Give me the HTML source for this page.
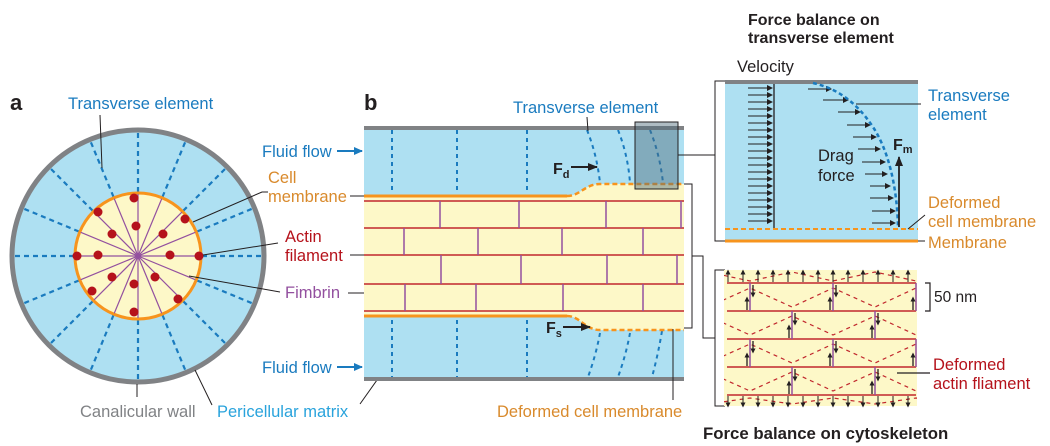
<!DOCTYPE html>
<html><head><meta charset="utf-8"><style>
body{margin:0;background:#fff}
svg{display:block;font-family:"Liberation Sans",Arial,sans-serif}
</style></head><body>
<svg width="1050" height="446" viewBox="0 0 1050 446" xmlns="http://www.w3.org/2000/svg">
<defs>
<marker id="ah" markerWidth="6" markerHeight="6" refX="5" refY="3" orient="auto" markerUnits="userSpaceOnUse"><path d="M0,0 L6,3 L0,6 Z" fill="#231f20"/></marker>
<marker id="ahb" markerWidth="10" markerHeight="8" refX="9" refY="4" orient="auto" markerUnits="userSpaceOnUse"><path d="M0,0 L10,4 L0,8 Z" fill="#231f20"/></marker>
<marker id="ahblue" markerWidth="9" markerHeight="8" refX="8" refY="4" orient="auto" markerUnits="userSpaceOnUse"><path d="M0,0 L9,4 L0,8 Z" fill="#1a7bbf"/></marker>
<marker id="as" markerWidth="5" markerHeight="5" refX="2.5" refY="2.5" orient="auto" markerUnits="userSpaceOnUse"><path d="M0,0 L5,2.5 L0,5 Z" fill="#231f20"/></marker>
<clipPath id="cl"><rect x="724" y="270" width="193" height="136"/></clipPath>
</defs>

<!-- Panel a -->
<text x="10" y="110" font-size="22" font-weight="bold" fill="#231f20">a</text>
<circle cx="138" cy="256" r="126" fill="#aee0f2" stroke="#808285" stroke-width="5"/>
<g stroke="#1a7bbf" stroke-width="2.2" stroke-dasharray="5,4">
<g id="rad"><line x1="138" y1="192" x2="138" y2="131"/></g>
<use href="#rad" transform="rotate(22.5 138 256)"/><use href="#rad" transform="rotate(45 138 256)"/><use href="#rad" transform="rotate(67.5 138 256)"/><use href="#rad" transform="rotate(90 138 256)"/><use href="#rad" transform="rotate(112.5 138 256)"/><use href="#rad" transform="rotate(135 138 256)"/><use href="#rad" transform="rotate(157.5 138 256)"/><use href="#rad" transform="rotate(180 138 256)"/><use href="#rad" transform="rotate(202.5 138 256)"/><use href="#rad" transform="rotate(225 138 256)"/><use href="#rad" transform="rotate(247.5 138 256)"/><use href="#rad" transform="rotate(270 138 256)"/><use href="#rad" transform="rotate(292.5 138 256)"/><use href="#rad" transform="rotate(315 138 256)"/><use href="#rad" transform="rotate(337.5 138 256)"/>
</g>
<circle cx="138" cy="256" r="63" fill="#fdf8c8" stroke="#f7941d" stroke-width="3"/>
<g stroke="#93509f" stroke-width="1.2">
<g id="prad"><line x1="138" y1="256" x2="138" y2="194"/></g>
<use href="#prad" transform="rotate(22.5 138 256)"/><use href="#prad" transform="rotate(45 138 256)"/><use href="#prad" transform="rotate(67.5 138 256)"/><use href="#prad" transform="rotate(90 138 256)"/><use href="#prad" transform="rotate(112.5 138 256)"/><use href="#prad" transform="rotate(135 138 256)"/><use href="#prad" transform="rotate(157.5 138 256)"/><use href="#prad" transform="rotate(180 138 256)"/><use href="#prad" transform="rotate(202.5 138 256)"/><use href="#prad" transform="rotate(225 138 256)"/><use href="#prad" transform="rotate(247.5 138 256)"/><use href="#prad" transform="rotate(270 138 256)"/><use href="#prad" transform="rotate(292.5 138 256)"/><use href="#prad" transform="rotate(315 138 256)"/><use href="#prad" transform="rotate(337.5 138 256)"/>
</g>
<circle cx="138" cy="256" r="3" fill="#93509f"/>
<g fill="#b5121b">
<circle cx="134" cy="198" r="4.5"/><circle cx="98" cy="212" r="4.5"/><circle cx="185" cy="219" r="4.5"/><circle cx="136" cy="226" r="4.5"/><circle cx="112" cy="234" r="4.5"/><circle cx="163" cy="234" r="4.5"/><circle cx="77" cy="256" r="4.5"/><circle cx="98" cy="255" r="4.5"/><circle cx="170" cy="255" r="4.5"/><circle cx="199" cy="256" r="4.5"/><circle cx="112" cy="277" r="4.5"/><circle cx="155" cy="277" r="4.5"/><circle cx="134" cy="284" r="4.5"/><circle cx="92" cy="291" r="4.5"/><circle cx="178" cy="299" r="4.5"/><circle cx="134" cy="312" r="4.5"/>
</g>
<g stroke="#231f20" stroke-width="1" fill="none">
<line x1="100" y1="115" x2="102" y2="168"/>
<polyline points="193,222 262,192 268,192"/>
<line x1="203" y1="255" x2="278" y2="243"/>
<line x1="189" y1="276" x2="280" y2="292"/>
<line x1="137" y1="384" x2="137" y2="397"/>
<line x1="195" y1="370" x2="212" y2="405"/>
</g>
<g font-size="16.5">
<text x="68" y="109" fill="#1a7bbf">Transverse element</text>
<text x="268" y="183" fill="#d98a2c">Cell</text>
<text x="268" y="202" fill="#d98a2c">membrane</text>
<text x="285" y="242" fill="#b5121b">Actin</text>
<text x="285" y="261" fill="#b5121b">filament</text>
<text x="285" y="298" fill="#93509f">Fimbrin</text>
<text x="80" y="417" fill="#808285">Canalicular wall</text>
<text x="217" y="417" fill="#29a3dc">Pericellular matrix</text>
<text x="262" y="157" fill="#1a7bbf">Fluid flow</text>
<text x="262" y="373" fill="#1a7bbf">Fluid flow</text>
</g>
<line x1="337" y1="151" x2="362" y2="151" stroke="#1a7bbf" stroke-width="2" marker-end="url(#ahblue)"/>
<line x1="337" y1="367" x2="362" y2="367" stroke="#1a7bbf" stroke-width="2" marker-end="url(#ahblue)"/>
<g stroke="#231f20" stroke-width="1" fill="none">
<line x1="350" y1="196" x2="364" y2="196"/>
<line x1="350" y1="255" x2="364" y2="255"/>
<polyline points="348,293 405,293 405,286"/>
<line x1="360" y1="404" x2="382" y2="373"/>
</g>

<!-- Panel b -->
<text x="364" y="110" font-size="22" font-weight="bold" fill="#231f20">b</text>
<rect x="364" y="127" width="320" height="253" fill="#aee0f2"/>
<path d="M364,196 L567,196 C580,196 585,184 600,184 L684,184 L684,330 L600,330 C585,330 580,316 567,316 L364,316 Z" fill="#fdf8c8"/>
<g stroke="#1a7bbf" stroke-width="2" stroke-dasharray="4,4" fill="none">
<line x1="392" y1="130" x2="392" y2="193"/><line x1="457" y1="130" x2="457" y2="193"/><line x1="527" y1="130" x2="527" y2="193"/>
<line x1="392" y1="320" x2="392" y2="378"/><line x1="457" y1="320" x2="457" y2="378"/><line x1="527" y1="320" x2="527" y2="378"/>
<path d="M587,130 Q597,155 600,183"/><path d="M618,130 Q628,155 630,183"/><path d="M650,130 Q660,155 663,183"/>
<path d="M600,333 Q596,355 588,377"/><path d="M630,333 Q626,355 618,377"/><path d="M662,331 Q658,355 652,377"/>
</g>
<line x1="364" y1="128" x2="684" y2="128" stroke="#808285" stroke-width="4"/>
<line x1="364" y1="379" x2="684" y2="379" stroke="#808285" stroke-width="4"/>
<g stroke="#c1272d" stroke-width="1.5">
<line x1="364" y1="201" x2="684" y2="201"/><line x1="364" y1="228" x2="684" y2="228"/><line x1="364" y1="255" x2="684" y2="255"/><line x1="364" y1="284" x2="684" y2="284"/><line x1="364" y1="311" x2="684" y2="311"/>
</g>
<g stroke="#93509f" stroke-width="1.5">
<line x1="440" y1="201" x2="440" y2="228"/><line x1="519" y1="201" x2="519" y2="228"/><line x1="606" y1="201" x2="606" y2="228"/><line x1="681" y1="201" x2="681" y2="228"/>
<line x1="404" y1="228" x2="404" y2="255"/><line x1="478" y1="228" x2="478" y2="255"/><line x1="562" y1="228" x2="562" y2="255"/><line x1="643" y1="228" x2="643" y2="255"/>
<line x1="441" y1="255" x2="441" y2="284"/><line x1="521" y1="255" x2="521" y2="284"/><line x1="607" y1="255" x2="607" y2="284"/><line x1="677" y1="255" x2="677" y2="284"/>
<line x1="405" y1="284" x2="405" y2="311"/><line x1="476" y1="284" x2="476" y2="311"/><line x1="563" y1="284" x2="563" y2="311"/><line x1="643" y1="284" x2="643" y2="311"/>
</g>
<path d="M364,196 L567,196" stroke="#f7941d" stroke-width="3"/>
<path d="M364,316 L567,316" stroke="#f7941d" stroke-width="3"/>
<path d="M567,196 C580,196 585,184 600,184 L684,184" stroke="#f7941d" stroke-width="2.5" stroke-dasharray="5,3" fill="none"/>
<path d="M567,316 C580,316 585,330 600,330 L684,330" stroke="#f7941d" stroke-width="2.5" stroke-dasharray="5,3" fill="none"/>
<rect x="635" y="122" width="43" height="67" fill="#4d6a7a" fill-opacity="0.45" stroke="#231f20" stroke-width="1"/>
<text x="553" y="174" font-size="16" font-weight="bold" fill="#231f20">F<tspan font-size="11" dy="4">d</tspan></text>
<line x1="571" y1="167" x2="597" y2="167" stroke="#231f20" stroke-width="2" marker-end="url(#ahb)"/>
<text x="546" y="333" font-size="16" font-weight="bold" fill="#231f20">F<tspan font-size="11" dy="4">s</tspan></text>
<line x1="563" y1="327" x2="590" y2="327" stroke="#231f20" stroke-width="2" marker-end="url(#ahb)"/>
<text x="513" y="113" font-size="16.5" fill="#1a7bbf">Transverse element</text>
<text x="497" y="417" font-size="16.5" fill="#d98a2c">Deformed cell membrane</text>
<g stroke="#231f20" stroke-width="1" fill="none">
<line x1="587" y1="117" x2="588" y2="131"/>
<line x1="673" y1="329" x2="673" y2="400"/>
<polyline points="684,184 692,184 692,328 684,328"/>
<polyline points="692,256 703,256 703,338 715,338"/>
<line x1="678" y1="155" x2="715" y2="155"/>
<polyline points="725,81 715,81 715,241 725,241"/>
<polyline points="725,270 715,270 715,406 725,406"/>
</g>

<!-- Right top -->
<text x="748" y="25" font-size="16" font-weight="bold" fill="#231f20">Force balance on</text>
<text x="748" y="43" font-size="16" font-weight="bold" fill="#231f20">transverse element</text>
<text x="737" y="72" font-size="16.5" fill="#231f20">Velocity</text>
<rect x="725" y="82" width="193" height="158" fill="#aee0f2"/>
<line x1="725" y1="82" x2="918" y2="82" stroke="#808285" stroke-width="4"/>
<line x1="725" y1="241" x2="918" y2="241" stroke="#f7941d" stroke-width="3"/>
<line x1="725" y1="229" x2="918" y2="229" stroke="#f7941d" stroke-width="2" stroke-dasharray="5,3"/>
<line x1="774" y1="84" x2="774" y2="228" stroke="#231f20" stroke-width="1.3"/>
<g stroke="#231f20" stroke-width="1" marker-end="url(#ah)">
<line x1="748" y1="88" x2="772" y2="88"/><line x1="748" y1="95" x2="772" y2="95"/><line x1="748" y1="102" x2="772" y2="102"/><line x1="748" y1="109" x2="772" y2="109"/><line x1="748" y1="116" x2="772" y2="116"/><line x1="748" y1="123" x2="772" y2="123"/><line x1="748" y1="130" x2="772" y2="130"/><line x1="748" y1="137" x2="772" y2="137"/><line x1="748" y1="144" x2="772" y2="144"/><line x1="748" y1="151" x2="772" y2="151"/><line x1="748" y1="158" x2="772" y2="158"/><line x1="748" y1="165" x2="772" y2="165"/><line x1="748" y1="172" x2="772" y2="172"/><line x1="748" y1="179" x2="772" y2="179"/><line x1="748" y1="186" x2="772" y2="186"/><line x1="748" y1="193" x2="772" y2="193"/><line x1="748" y1="200" x2="772" y2="200"/><line x1="748" y1="207" x2="772" y2="207"/><line x1="748" y1="214" x2="772" y2="214"/><line x1="748" y1="221" x2="772" y2="221"/>
<line x1="808" y1="89" x2="831" y2="89"/><line x1="823" y1="100" x2="848" y2="100"/><line x1="838" y1="112" x2="860" y2="112"/><line x1="847" y1="125" x2="870" y2="125"/><line x1="853" y1="137" x2="876" y2="137"/><line x1="858" y1="149" x2="880" y2="149"/><line x1="862" y1="162" x2="885" y2="162"/><line x1="865" y1="174" x2="887" y2="174"/><line x1="870" y1="186" x2="890" y2="186"/><line x1="870" y1="198" x2="893" y2="198"/><line x1="872" y1="211" x2="895" y2="211"/><line x1="872" y1="223" x2="895" y2="223"/>
</g>
<path d="M813,83 C835,88 855,100 873,127 C888,150 897,185 898,227" stroke="#1a7bbf" stroke-width="2.5" stroke-dasharray="4,3" fill="none"/>
<line x1="899" y1="227" x2="899" y2="157" stroke="#231f20" stroke-width="1.8" marker-end="url(#ahb)"/>
<text x="893" y="150" font-size="16" font-weight="bold" fill="#231f20">F<tspan font-size="11" dy="3">m</tspan></text>
<text x="818" y="161" font-size="16.5" fill="#231f20">Drag</text>
<text x="818" y="181" font-size="16.5" fill="#231f20">force</text>
<g stroke="#231f20" stroke-width="1" fill="none">
<line x1="856" y1="104" x2="921" y2="104"/>
<line x1="908" y1="229" x2="925" y2="215"/>
<line x1="918" y1="241" x2="925" y2="241"/>
</g>
<text x="928" y="101" font-size="16.5" fill="#1a7bbf">Transverse</text>
<text x="928" y="120" font-size="16.5" fill="#1a7bbf">element</text>
<text x="928" y="208" font-size="16.5" fill="#d98a2c">Deformed</text>
<text x="928" y="227" font-size="16.5" fill="#d98a2c">cell membrane</text>
<text x="928" y="248" font-size="16.5" fill="#d98a2c">Membrane</text>

<!-- Right bottom -->
<rect x="724" y="270" width="193" height="136" fill="#fdf8c8"/>
<g clip-path="url(#cl)" stroke="#c1272d" stroke-width="1.2" stroke-dasharray="4,4" fill="none">
<polyline points="708,272 750,281 792,272 833,281 875,272 916,281 958,272"/>
<polyline points="708,307 750,288 792,307 833,288 875,307 916,288 958,307"/>
<polyline points="708,316 750,335 792,316 833,335 875,316 916,335 958,316"/>
<polyline points="708,363 750,344 792,363 833,344 875,363 916,344 958,363"/>
<polyline points="708,372 750,391 792,372 833,391 875,372 916,391 958,372"/>
<polyline points="708,404 750,398 792,404 833,398 875,404 916,398 958,404"/>
</g>
<g stroke="#c1272d" stroke-width="1.5">
<line x1="727" y1="283" x2="916" y2="283"/><line x1="727" y1="311" x2="916" y2="311"/><line x1="727" y1="339" x2="916" y2="339"/><line x1="727" y1="367" x2="916" y2="367"/><line x1="727" y1="395" x2="916" y2="395"/>
</g>
<g stroke="#93509f" stroke-width="1.5">
<line x1="750" y1="283" x2="750" y2="311"/><line x1="833" y1="283" x2="833" y2="311"/><line x1="916" y1="283" x2="916" y2="311"/>
<line x1="792" y1="311" x2="792" y2="339"/><line x1="875" y1="311" x2="875" y2="339"/>
<line x1="750" y1="339" x2="750" y2="367"/><line x1="833" y1="339" x2="833" y2="367"/><line x1="916" y1="339" x2="916" y2="367"/>
<line x1="792" y1="367" x2="792" y2="395"/><line x1="875" y1="367" x2="875" y2="395"/>
</g>
<g stroke="#231f20" stroke-width="1" marker-end="url(#as)">
<line x1="728" y1="282" x2="728" y2="272"/><line x1="743" y1="282" x2="743" y2="272"/><line x1="758" y1="282" x2="758" y2="272"/><line x1="773" y1="282" x2="773" y2="272"/><line x1="788" y1="282" x2="788" y2="272"/><line x1="803" y1="282" x2="803" y2="272"/><line x1="818" y1="282" x2="818" y2="272"/><line x1="833" y1="282" x2="833" y2="272"/><line x1="848" y1="282" x2="848" y2="272"/><line x1="863" y1="282" x2="863" y2="272"/><line x1="878" y1="282" x2="878" y2="272"/><line x1="893" y1="282" x2="893" y2="272"/><line x1="908" y1="282" x2="908" y2="272"/>
<line x1="728" y1="396" x2="728" y2="405"/><line x1="743" y1="396" x2="743" y2="405"/><line x1="758" y1="396" x2="758" y2="405"/><line x1="773" y1="396" x2="773" y2="405"/><line x1="788" y1="396" x2="788" y2="405"/><line x1="803" y1="396" x2="803" y2="405"/><line x1="818" y1="396" x2="818" y2="405"/><line x1="833" y1="396" x2="833" y2="405"/><line x1="848" y1="396" x2="848" y2="405"/><line x1="863" y1="396" x2="863" y2="405"/><line x1="878" y1="396" x2="878" y2="405"/><line x1="893" y1="396" x2="893" y2="405"/><line x1="908" y1="396" x2="908" y2="405"/>
</g>
<g stroke="#231f20" stroke-width="1.3" marker-end="url(#as)">
<line x1="753" y1="285" x2="753" y2="295"/><line x1="836" y1="285" x2="836" y2="295"/>
<line x1="747" y1="310" x2="747" y2="299"/><line x1="830" y1="310" x2="830" y2="299"/><line x1="913" y1="310" x2="913" y2="299"/>
<line x1="795" y1="313" x2="795" y2="323"/><line x1="878" y1="313" x2="878" y2="323"/>
<line x1="789" y1="338" x2="789" y2="327"/><line x1="872" y1="338" x2="872" y2="327"/>
<line x1="753" y1="341" x2="753" y2="351"/><line x1="836" y1="341" x2="836" y2="351"/>
<line x1="747" y1="366" x2="747" y2="355"/><line x1="830" y1="366" x2="830" y2="355"/><line x1="913" y1="366" x2="913" y2="355"/>
<line x1="795" y1="369" x2="795" y2="379"/><line x1="878" y1="369" x2="878" y2="379"/>
<line x1="789" y1="394" x2="789" y2="383"/><line x1="872" y1="394" x2="872" y2="383"/>
</g>
<g stroke="#231f20" stroke-width="1.2" fill="none">
<polyline points="925,283 930,283 930,311 925,311"/>
<line x1="897" y1="373" x2="930" y2="373"/>
</g>
<text x="934" y="302" font-size="15.5" fill="#231f20">50 nm</text>
<text x="933" y="370" font-size="16.5" fill="#b5121b">Deformed</text>
<text x="933" y="389" font-size="16.5" fill="#b5121b">actin fliament</text>
<text x="703" y="439" font-size="16.8" font-weight="bold" fill="#231f20">Force balance on cytoskeleton</text>
</svg>
</body></html>
